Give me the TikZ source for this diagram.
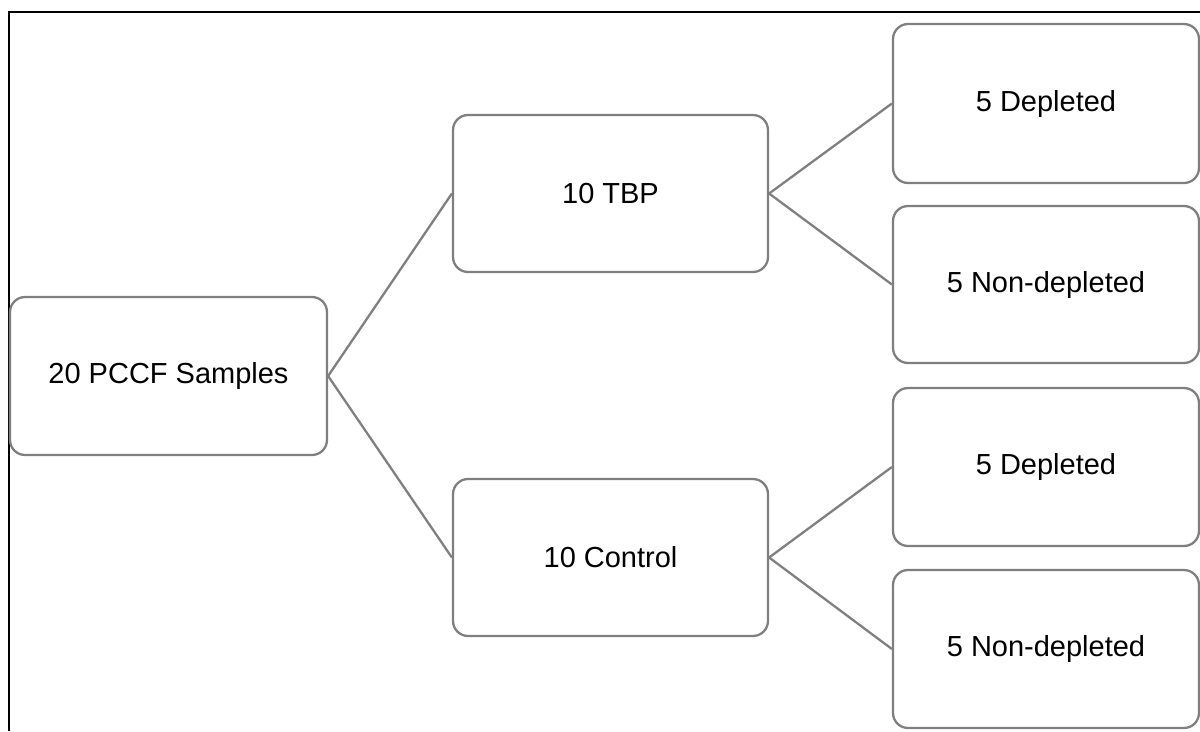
\documentclass[tikz,border=0pt]{standalone}
\usepackage{fontspec}
\setmainfont{Liberation Sans}
\usepackage{tikz}
\usetikzlibrary{positioning}
\definecolor{boxgray}{HTML}{7F7F7F}

\begin{document}
\begin{tikzpicture}[x=0.02cm, y=-0.02cm,
  box/.style={draw=boxgray, line width=1.3pt, rounded corners=0.3cm, fill=white,
    minimum height=3.14cm, font=\fontsize{16.5}{20}\selectfont},
  link/.style={draw=boxgray, line width=1.3pt}]
\useasboundingbox (0,0) rectangle (1200,731);
% frame
\draw[line width=1.2pt] (9,731) -- (9,12) -- (1200,12);
% boxes
\node[box, minimum width=6.34cm, minimum height=3.16cm] (root) at (168.5,376) {20 PCCF Samples};
\node[box, minimum width=6.3cm] (tbp) at (610.5,193.5) {10 TBP};
\node[box, minimum width=6.3cm] (ctrl) at (610.5,557.5) {10 Control};
\node[box, minimum width=6.12cm, minimum height=3.18cm] (tdep) at (1046,103.5) {5 Depleted};
\node[box, minimum width=6.12cm] (tnon) at (1046,284.5) {5 Non-depleted};
\node[box, minimum width=6.12cm, minimum height=3.16cm] (cdep) at (1046,467) {5 Depleted};
\node[box, minimum width=6.12cm, minimum height=3.16cm] (cnon) at (1046,649) {5 Non-depleted};
% connectors
\foreach \a/\b in {root/tbp, root/ctrl, tbp/tdep, tbp/tnon, ctrl/cdep, ctrl/cnon}
  \draw[link] (\a.east) -- (\b.west);
\end{tikzpicture}
\end{document}
